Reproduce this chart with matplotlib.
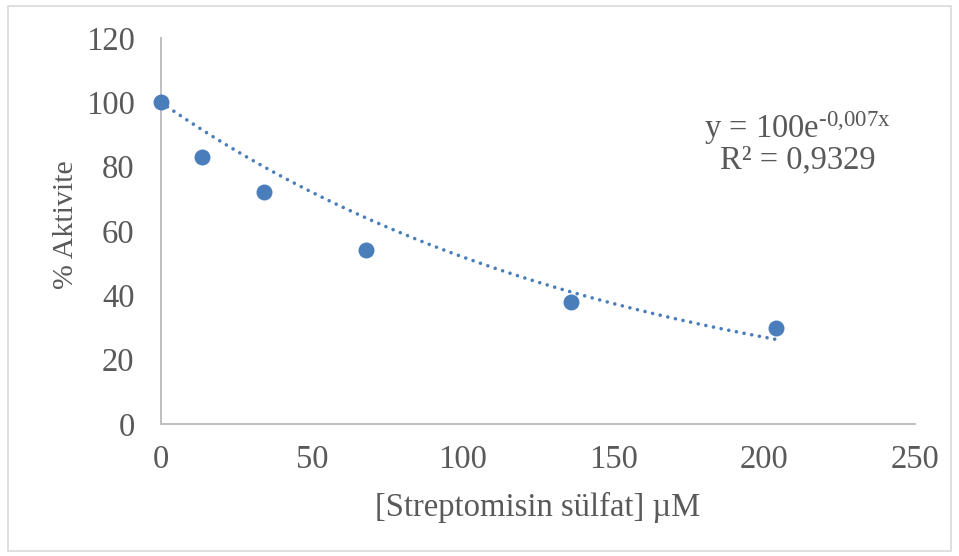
import numpy as np
from matplotlib import pyplot as plt
from matplotlib.patches import Rectangle

plt.rcParams['font.family'] = ['Liberation Serif', 'DejaVu Serif']
plt.rcParams['mathtext.fontset'] = 'custom'
plt.rcParams['mathtext.rm'] = 'Liberation Serif'
plt.rcParams['mathtext.it'] = 'Liberation Serif'

# Streptomycin sulfate concentration (uM) vs. remaining activity (%)
concentration = [0, 13.6, 34, 68, 136, 204]
activity = [100, 83, 72, 54, 38, 30]
x_ticks = [0, 50, 100, 150, 200, 250]
y_ticks = [0, 20, 40, 60, 80, 100, 120]
equation = r'y = 100e$^{\text{-0,007x}}$'
r_squared = 'R² = 0,9329'

text_color = '#595959'
point_color = '#4a7ebb'
axis_color = '#bfbfbf'
fs = 23.5

fig = plt.figure(figsize=(9.59, 5.56), dpi=100)
ax = fig.add_axes([161 / 959, 1 - 424 / 556, (915 - 161) / 959, (424 - 38) / 556])

# border round the whole chart area
fig.patches.append(Rectangle((8 / 959, 5 / 556), 943 / 959, 545 / 556,
                             transform=fig.transFigure, fill=False,
                             edgecolor='#d9d9d9', linewidth=1.2))

# exponential trendline with the intercept fixed at 100
x = np.array(concentration, dtype=float)
y = np.array(activity, dtype=float)
k = np.sum(x * (np.log(y) - np.log(100))) / np.sum(x * x)
xs = np.linspace(0, x.max(), 200)
ax.plot(xs, 100 * np.exp(k * xs), color=point_color, linewidth=2.6,
        linestyle=(0, (0.01, 2.15)), dash_capstyle='round', zorder=2)

ax.plot(concentration, activity, 'o', color=point_color, markersize=11.5,
        markeredgewidth=0, zorder=3, clip_on=False)

ax.set_xlim(0, 250)
ax.set_ylim(0, 120)
ax.set_xticks(x_ticks)
ax.set_yticks(y_ticks)
ax.tick_params(length=0, labelsize=fs, labelcolor=text_color)
ax.tick_params(axis='x', pad=15)
ax.tick_params(axis='y', pad=19)
for side in ['top', 'right']:
    ax.spines[side].set_visible(False)
for side in ['left', 'bottom']:
    ax.spines[side].set_color(axis_color)
    ax.spines[side].set_linewidth(1.4)

ax.set_xlabel('[Streptomisin sülfat] µM', fontsize=fs, color=text_color, labelpad=12)
ax.set_ylabel('% Aktivite', fontsize=21.5, color=text_color)
ax.yaxis.set_label_coords(-0.109, 0.516)

ax.text(211, 92, equation, fontsize=fs, color=text_color, ha='center', va='center')
ax.text(211, 82, r_squared, fontsize=fs, color=text_color, ha='center', va='center')

plt.savefig('out.png', dpi=100)
